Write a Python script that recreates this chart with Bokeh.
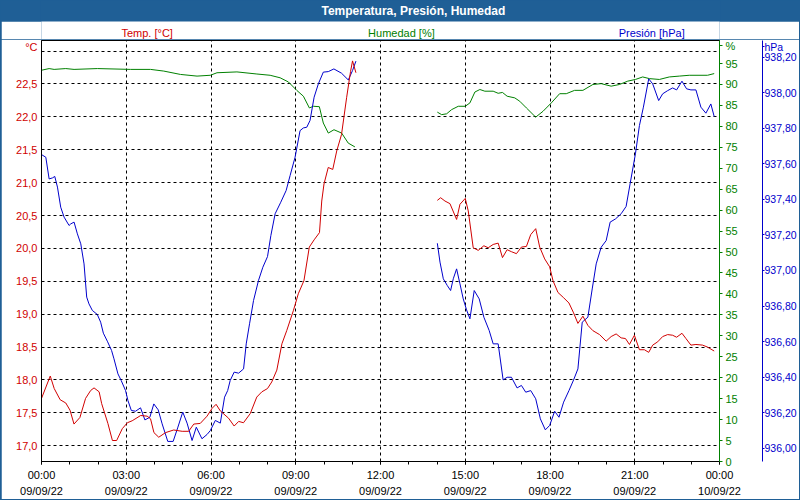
import numpy as np
from bokeh.plotting import figure
from bokeh.models import Range1d, LinearAxis, FixedTicker, CustomJSTickFormatter
from bokeh.layouts import column
from bokeh.embed import file_html
from bokeh.resources import INLINE
from bokeh.core.properties import value

FONT = "Liberation Sans"
RED = "#d00000"
GREEN = "#008000"
BLUE = "#0000cc"
BAR = "#1f5f96"

TITLE = "Temperatura, Presión, Humedad"
HDR_TEXT = ["Temp. [°C]", "Humedad [%]", "Presión [hPa]"]
HDR_COLOR = [RED, GREEN, BLUE]
UNIT_TEMP = "°C"
UNIT_HUM = "%"
UNIT_PRES = "hPa"

# x tick labels (every 3 hours)
x_tick_hours = [0, 3, 6, 9, 12, 15, 18, 21, 24]
x_tick_labels = ["00:00\n09/09/22", "03:00\n09/09/22", "06:00\n09/09/22", "09:00\n09/09/22",
                 "12:00\n09/09/22", "15:00\n09/09/22", "18:00\n09/09/22", "21:00\n09/09/22",
                 "00:00\n10/09/22"]
temp_ticks = [17.0, 17.5, 18.0, 18.5, 19.0, 19.5, 20.0, 20.5, 21.0, 21.5, 22.0, 22.5]
temp_grid = temp_ticks + [23.0]
hum_ticks = list(range(0, 100, 5))
pres_ticks = [936.0, 936.2, 936.4, 936.6, 936.8, 937.0, 937.2, 937.4, 937.6, 937.8, 938.0, 938.2]

# ---- Temperature (hours, degC) ----
temp_t_am = [0.0, 0.31, 0.45, 0.66, 0.86, 1.01, 1.15, 1.36, 1.56, 1.74, 1.86, 2.04, 2.13, 2.35, 2.51,
             2.66, 2.86, 3.04, 3.21, 3.51, 3.74, 3.86, 3.98, 4.15, 4.39, 4.68, 4.98, 5.21, 5.39, 5.62,
             5.86, 6.04, 6.18, 6.33, 6.62, 6.82, 6.98, 7.15, 7.39, 7.62, 7.80, 8.00, 8.15, 8.33, 8.51,
             8.68, 8.92, 9.09, 9.29, 9.48, 9.65, 9.84, 9.92, 10.00, 10.15, 10.31, 10.45, 10.62, 10.80,
             10.94, 11.01, 11.13]
temp_am = [17.72, 18.06, 17.87, 17.70, 17.65, 17.54, 17.33, 17.43, 17.72, 17.84, 17.88, 17.82, 17.64,
           17.34, 17.08, 17.08, 17.26, 17.35, 17.38, 17.46, 17.45, 17.41, 17.20, 17.13, 17.20, 17.24,
           17.22, 17.22, 17.33, 17.34, 17.45, 17.57, 17.63, 17.53, 17.42, 17.30, 17.37, 17.35, 17.49,
           17.74, 17.82, 17.87, 17.97, 18.15, 18.55, 18.75, 19.06, 19.31, 19.51, 20.02, 20.13, 20.24,
           20.72, 20.98, 21.23, 21.20, 21.48, 21.73, 22.29, 22.69, 22.85, 22.67]
temp_t_pm = [14.012, 14.129, 14.282, 14.459, 14.694, 14.812, 15.0, 15.106, 15.282, 15.459, 15.659,
             15.812, 15.988, 16.165, 16.318, 16.482, 16.635, 16.812, 16.988, 17.165, 17.318, 17.494,
             17.635, 17.812, 17.988, 18.106, 18.282, 18.482, 18.671, 18.835, 18.988, 19.165, 19.341,
             19.518, 19.753, 19.988, 20.165, 20.341, 20.518, 20.671, 20.812, 20.988, 21.165, 21.341,
             21.494, 21.635, 21.812, 21.988, 22.165, 22.341, 22.482, 22.671, 22.812, 22.988, 23.165,
             23.4, 23.576, 23.812]
temp_pm = [20.73, 20.77, 20.72, 20.68, 20.44, 20.67, 20.76, 20.57, 20.01, 19.97, 20.04, 20.01, 20.06,
           20.08, 19.86, 19.98, 19.95, 19.92, 20.02, 20.03, 20.21, 20.30, 20.02, 19.84, 19.72, 19.51,
           19.33, 19.25, 19.17, 19.02, 18.86, 18.97, 18.83, 18.75, 18.69, 18.59, 18.66, 18.70, 18.64,
           18.63, 18.54, 18.68, 18.46, 18.46, 18.42, 18.53, 18.58, 18.66, 18.69, 18.68, 18.65, 18.71,
           18.63, 18.53, 18.54, 18.53, 18.50, 18.44]

# ---- Pressure (hours, hPa) ----
pres_t_am = [0.0, 0.153, 0.27, 0.39, 0.47, 0.565, 0.68, 0.8, 0.976, 1.035, 1.153, 1.27, 1.39, 1.506,
             1.6, 1.68, 1.8, 1.976, 2.094, 2.19, 2.33, 2.48, 2.565, 2.706, 2.82, 2.976, 3.06, 3.18,
             3.33, 3.506, 3.66, 3.835, 3.976, 4.13, 4.27, 4.47, 4.66, 4.82, 5.0, 5.153, 5.33, 5.48,
             5.68, 5.86, 5.976, 6.153, 6.33, 6.48, 6.59, 6.68, 6.82, 6.976, 7.153, 7.247, 7.365, 7.506,
             7.68, 7.835, 8.0, 8.12, 8.27, 8.47, 8.66, 8.8, 8.976, 9.153, 9.27, 9.39, 9.506, 9.65, 9.8,
             9.976, 10.153, 10.35, 10.62, 10.86, 11.01, 11.13]
pres_am = [937.652, 937.637, 937.515, 937.521, 937.529, 937.469, 937.356, 937.300, 937.253, 937.262,
           937.272, 937.206, 937.150, 937.037, 936.850, 936.812, 936.775, 936.752, 936.709, 936.647,
           936.602, 936.550, 936.503, 936.418, 936.381, 936.324, 936.268, 936.212, 936.208, 936.227,
           936.159, 936.174, 936.249, 936.216, 936.137, 936.038, 936.038, 936.114, 936.203, 936.141,
           936.043, 936.118, 936.053, 936.077, 936.099, 936.156, 936.141, 936.287, 936.324, 936.381,
           936.428, 936.422, 936.446, 936.587, 936.700, 936.831, 936.943, 937.018, 937.078, 937.197,
           937.319, 937.384, 937.450, 937.534, 937.637, 937.787, 937.802, 937.806, 937.844, 937.975,
           938.050, 938.116, 938.119, 938.134, 938.110, 938.072, 938.125, 938.178]
pres_t_pm = [14.012, 14.106, 14.224, 14.365, 14.482, 14.576, 14.694, 14.812, 14.929, 15.047, 15.165,
             15.318, 15.494, 15.659, 15.847, 15.988, 16.165, 16.341, 16.482, 16.635, 16.835, 16.988,
             17.141, 17.318, 17.494, 17.659, 17.835, 17.988, 18.165, 18.318, 18.482, 18.671, 18.835,
             18.988, 19.141, 19.341, 19.494, 19.635, 19.812, 19.988, 20.129, 20.318, 20.518, 20.694,
             20.835, 21.024, 21.165, 21.306, 21.494, 21.635, 21.847, 21.988, 22.165, 22.341, 22.482,
             22.671, 22.835, 22.988, 23.165, 23.341, 23.518, 23.694, 23.812]
pres_pm = [937.153, 937.047, 936.953, 936.915, 936.887, 936.953, 937.009, 936.925, 936.840, 936.778,
           936.728, 936.887, 936.840, 936.737, 936.662, 936.587, 936.587, 936.384, 936.399, 936.399,
           936.339, 936.353, 936.315, 936.324, 936.278, 936.165, 936.103, 936.128, 936.208, 936.174,
           936.259, 936.324, 936.384, 936.446, 936.709, 936.737, 936.896, 937.037, 937.131, 937.168,
           937.272, 937.290, 937.319, 937.360, 937.487, 937.656, 937.815, 937.919, 938.078, 938.050,
           937.956, 937.994, 938.012, 938.027, 938.016, 938.065, 938.022, 938.016, 938.016, 937.919,
           937.885, 937.937, 937.866]

# ---- Humidity (hours, %) ----
hum_t_am = [0.0, 0.27, 0.447, 0.859, 1.153, 1.976, 3.153, 3.859, 4.329, 4.918, 5.506, 5.976, 6.212,
            6.918, 7.624, 8.094, 8.447, 8.741, 9.035, 9.271, 9.482, 9.624, 9.835, 9.976, 10.153,
            10.353, 10.624, 10.859, 11.094]
hum_am = [93.4, 93.8, 93.6, 93.8, 93.6, 93.8, 93.6, 93.6, 93.2, 92.4, 92.0, 92.2, 92.8, 93.0, 92.5,
          92.2, 91.6, 90.6, 88.6, 87.2, 84.4, 84.8, 84.7, 80.8, 78.4, 79.2, 78.4, 76.0, 75.1]
hum_t_pm = [14.012, 14.165, 14.341, 14.518, 14.753, 15.0, 15.165, 15.341, 15.518, 15.694, 15.988,
            16.165, 16.318, 16.482, 16.753, 16.929, 17.165, 17.494, 17.753, 18.047, 18.341, 18.576,
            18.871, 19.165, 19.518, 19.812, 20.165, 20.459, 20.753, 21.024, 21.282, 21.518, 21.871,
            22.224, 22.576, 22.929, 23.576, 23.812]
hum_pm = [83.4, 82.8, 83.0, 84.0, 84.8, 84.8, 85.6, 88.2, 88.8, 88.4, 88.4, 87.9, 88.1, 87.2, 86.8,
          86.0, 84.4, 82.2, 83.6, 85.6, 87.8, 87.8, 88.6, 88.6, 90.0, 90.2, 89.6, 90.0, 90.8, 91.2,
          91.8, 91.4, 91.2, 91.8, 92.0, 92.2, 92.2, 92.6]


def joined(a, b):
    return np.array(list(a) + [np.nan] + list(b), dtype=float)


def strip(fig):
    fig.xaxis.visible = False
    fig.yaxis.visible = False
    fig.grid.visible = False
    fig.outline_line_color = None


# ---------------- title bar (blue over the whole width) ----------------
tf = figure(width=800, height=21, x_range=Range1d(40, 722), y_range=Range1d(21, 0),
            output_backend="svg", toolbar_location=None,
            min_border_left=40, min_border_right=78, min_border_top=0, min_border_bottom=0)
strip(tf)
tf.background_fill_color = BAR
tf.border_fill_color = BAR
tf.text(x=[414], y=[10.5], text=[TITLE], text_color="white", text_font=value(FONT),
        text_font_style="bold", text_font_size="12px", text_align="center", text_baseline="middle")

# ---------------- header row ----------------
hf = figure(width=798, height=18, x_range=Range1d(41, 721), y_range=Range1d(39, 21),
            output_backend="svg", toolbar_location=None,
            min_border_left=40, min_border_right=78, min_border_top=0, min_border_bottom=0,
            margin=(0, 1, 0, 1))
strip(hf)
hf.background_fill_color = "white"
hf.border_fill_color = "white"
hf.text(x=[147, 402, 653], y=[32.5, 32.5, 32.5], text=HDR_TEXT, text_color=HDR_COLOR,
        text_font=value(FONT), text_font_size="11px", text_align="center", text_baseline="middle")

# ---------------- main chart ----------------
T_LO, T_HI = 16.761, 23.16
p = figure(width=798, height=460, x_range=Range1d(0, 24), y_range=Range1d(T_LO, T_HI),
           output_backend="svg", toolbar_location=None,
           min_border_left=40, min_border_right=78, min_border_top=1, min_border_bottom=38,
           margin=(0, 1, 1, 1))
p.background_fill_color = "white"
p.border_fill_color = "white"
p.outline_line_color = "black"
p.outline_line_width = 1
p.extra_y_ranges = {"hum": Range1d(0, 100.5), "pres": Range1d(935.925, 938.294)}

# x axis
xa = p.xaxis[0]
xa.ticker = FixedTicker(ticks=x_tick_hours, minor_ticks=list(range(0, 25)))
xa.formatter = CustomJSTickFormatter(args=dict(labels=x_tick_labels),
                                     code="return labels[Math.round(tick / 3)];")
xa.axis_line_color = "black"
xa.major_tick_line_color = "black"
xa.minor_tick_line_color = "black"
xa.major_tick_in = 0
xa.major_tick_out = 3
xa.minor_tick_in = 0
xa.minor_tick_out = 3
xa.major_label_standoff = 4
xa.major_label_text_font = FONT
xa.major_label_text_font_size = "11px"
xa.major_label_text_color = "black"
xa.major_label_text_line_height = 1.35

# left temperature axis (unit shown as the top label)
ya = p.yaxis[0]
ya.ticker = FixedTicker(ticks=temp_ticks + [23.055])
ya.formatter = CustomJSTickFormatter(args=dict(unit=UNIT_TEMP),
                                     code="return tick > 22.9 ? unit : tick.toFixed(1).replace('.', ',');")
ya.axis_line_color = "black"
ya.major_tick_line_color = None
ya.minor_tick_line_color = None
ya.major_tick_out = 0
ya.major_tick_in = 0
ya.major_label_standoff = 4
ya.major_label_text_font = FONT
ya.major_label_text_font_size = "11px"
ya.major_label_text_color = RED

# grids
p.xgrid.ticker = FixedTicker(ticks=[3, 6, 9, 12, 15, 18, 21])
p.ygrid.ticker = FixedTicker(ticks=temp_grid)
for g in (p.xgrid[0], p.ygrid[0]):
    g.grid_line_color = "black"
    g.grid_line_dash = "3 3"
    g.grid_line_width = 1

# humidity axis (right, next to frame)
ha = LinearAxis(y_range_name="hum", ticker=FixedTicker(ticks=hum_ticks + [99.2]),
                formatter=CustomJSTickFormatter(args=dict(unit=UNIT_HUM),
                                                code="return tick > 97 ? unit : tick.toFixed(0);"))
ha.axis_line_color = GREEN
ha.major_tick_line_color = GREEN
ha.minor_tick_line_color = None
ha.major_tick_in = 0
ha.major_tick_out = 3
ha.major_label_standoff = 3
ha.major_label_text_font = FONT
ha.major_label_text_font_size = "11px"
ha.major_label_text_color = GREEN
ha.axis_label = " "
ha.axis_label_text_font_size = "11px"
ha.axis_label_standoff = 7
p.add_layout(ha, "right")

# pressure axis (right, outer)
pa = LinearAxis(y_range_name="pres", ticker=FixedTicker(ticks=pres_ticks + [938.26]),
                formatter=CustomJSTickFormatter(args=dict(unit=UNIT_PRES),
                                                code="return tick > 938.25 ? unit : tick.toFixed(2).replace('.', ',');"))
pa.axis_line_color = BLUE
pa.major_tick_line_color = BLUE
pa.minor_tick_line_color = None
pa.major_tick_in = 0
pa.major_tick_out = 2
pa.major_label_standoff = 0
pa.major_label_text_font = FONT
pa.major_label_text_font_size = "10.5px"
pa.major_label_text_color = BLUE
p.add_layout(pa, "right")

# series
p.line(joined(hum_t_am, hum_t_pm), joined(hum_am, hum_pm), y_range_name="hum",
       line_color=GREEN, line_width=1)
p.line(joined(pres_t_am, pres_t_pm), joined(pres_am, pres_pm), y_range_name="pres",
       line_color=BLUE, line_width=1)
p.line(joined(temp_t_am, temp_t_pm), joined(temp_am, temp_pm),
       line_color=RED, line_width=1)

layout = column(tf, hf, p, spacing=0, styles={"background-color": BAR})
open("out.html", "w").write(file_html(layout, INLINE))
